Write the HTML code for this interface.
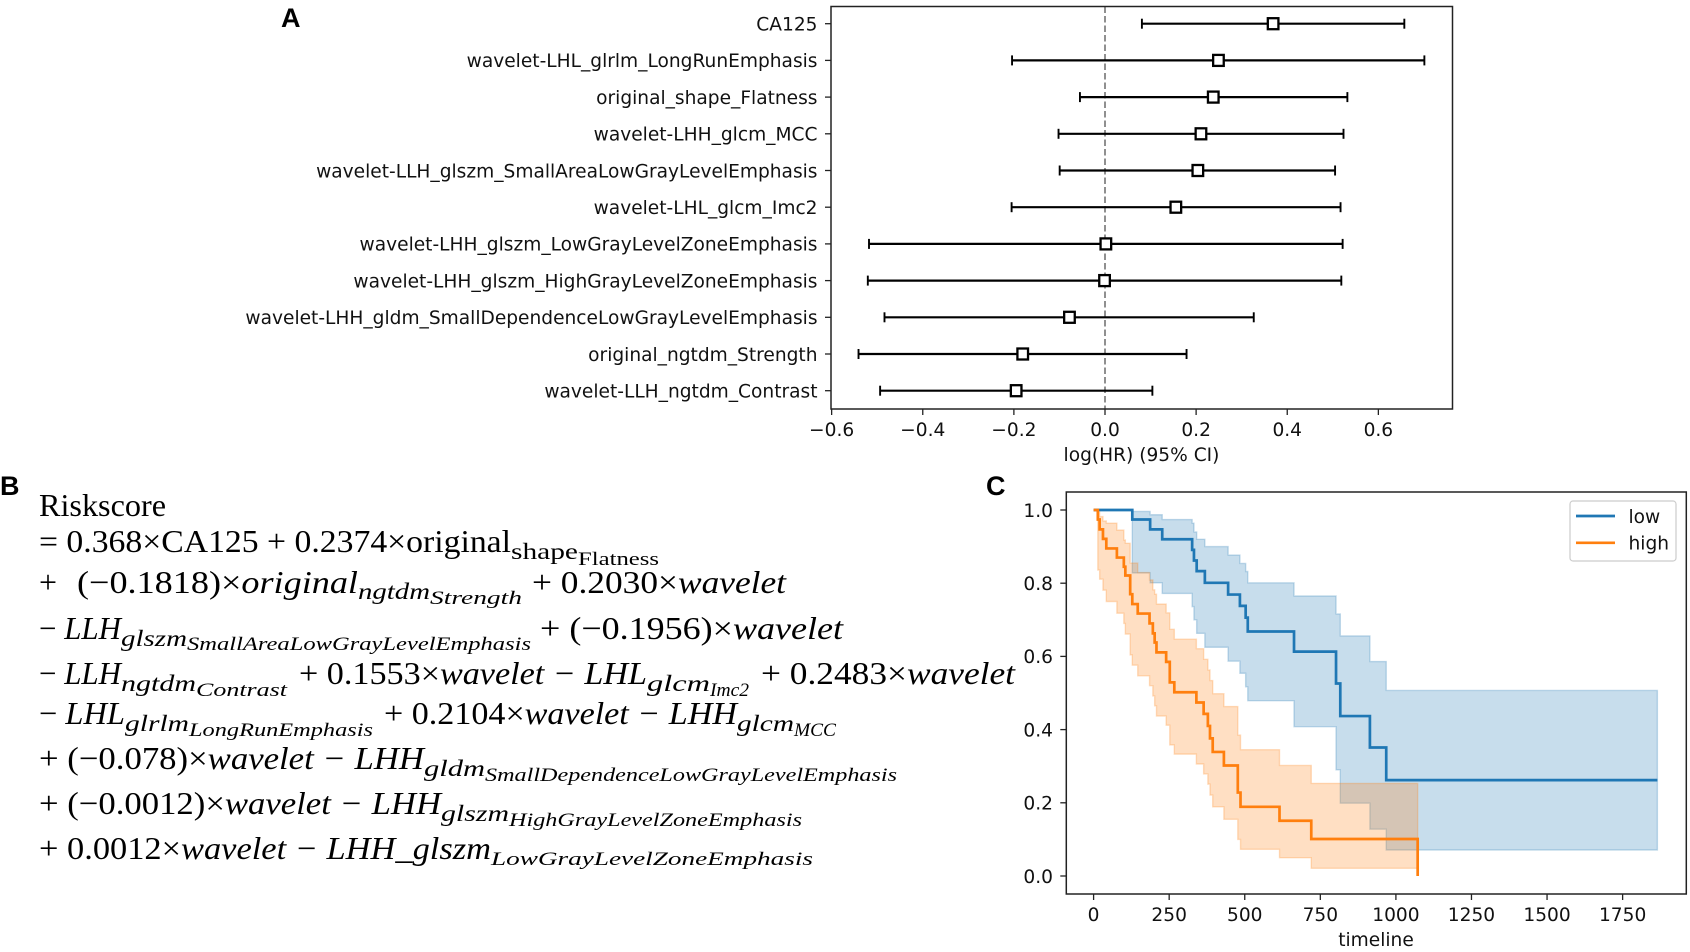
<!DOCTYPE html>
<html lang="en">
<head>
<meta charset="utf-8">
<title>Forest plot, risk score formula and Kaplan-Meier curves</title>
<style>
html,body{margin:0;padding:0;background:#fff;width:1690px;height:952px;overflow:hidden}
svg{display:block;position:absolute;left:0;top:0;filter:blur(0.35px)}
.dj{font-family:"DejaVu Sans","Liberation Sans",sans-serif;fill:#111}
.eq{font-family:"Liberation Serif",serif;fill:#000}
.letter{font-family:"Liberation Sans",sans-serif;font-weight:bold;font-size:27px;fill:#000}
.m{font-size:32px}.s{font-size:23px}.ss{font-size:19px}
</style>
</head>
<body>
<svg id="figure" width="1690" height="952" viewBox="0 0 1690 952" xmlns="http://www.w3.org/2000/svg">
  <rect x="0" y="0" width="1690" height="952" fill="#fff"/>
  <text class="letter" x="281" y="27">A</text>
  <text class="letter" x="0" y="495">B</text>
  <text class="letter" x="986" y="495">C</text>

  <g class="eq" transform="translate(0,1.2)">
    <text class="m" x="39" y="515" textLength="127" lengthAdjust="spacingAndGlyphs">Riskscore</text>

    <g>
      <text class="m" x="39" y="551" textLength="472" lengthAdjust="spacingAndGlyphs">= 0.368×CA125 + 0.2374×original</text>
      <text class="s" x="511" y="558" textLength="67" lengthAdjust="spacingAndGlyphs">shape</text>
      <text class="ss" x="578" y="564" textLength="81" lengthAdjust="spacingAndGlyphs">Flatness</text>
    </g>

    <g>
      <text class="m" x="39" y="592" textLength="18" lengthAdjust="spacingAndGlyphs">+</text>
      <text class="m" x="77" y="592" textLength="281" lengthAdjust="spacingAndGlyphs">(−0.1818)×<tspan font-style="italic">original</tspan></text>
      <text class="s" font-style="italic" x="358" y="598" textLength="72" lengthAdjust="spacingAndGlyphs">ngtdm</text>
      <text class="ss" font-style="italic" x="430" y="603" textLength="92" lengthAdjust="spacingAndGlyphs">Strength</text>
      <text class="m" x="532" y="592" textLength="254" lengthAdjust="spacingAndGlyphs">+ 0.2030×<tspan font-style="italic">wavelet</tspan></text>
    </g>

    <g>
      <text class="m" x="39" y="638" textLength="82" lengthAdjust="spacingAndGlyphs">− <tspan font-style="italic">LLH</tspan></text>
      <text class="s" font-style="italic" x="121" y="645" textLength="66" lengthAdjust="spacingAndGlyphs">glszm</text>
      <text class="ss" font-style="italic" x="187" y="649" textLength="344" lengthAdjust="spacingAndGlyphs">SmallAreaLowGrayLevelEmphasis</text>
      <text class="m" x="540" y="638" textLength="303" lengthAdjust="spacingAndGlyphs">+ (−0.1956)×<tspan font-style="italic">wavelet</tspan></text>
    </g>

    <g>
      <text class="m" x="39" y="683" textLength="82" lengthAdjust="spacingAndGlyphs">− <tspan font-style="italic">LLH</tspan></text>
      <text class="s" font-style="italic" x="121" y="690" textLength="75" lengthAdjust="spacingAndGlyphs">ngtdm</text>
      <text class="ss" font-style="italic" x="196" y="695" textLength="91" lengthAdjust="spacingAndGlyphs">Contrast</text>
      <text class="m" x="299" y="683" textLength="348" lengthAdjust="spacingAndGlyphs">+ 0.1553×<tspan font-style="italic">wavelet − LHL</tspan></text>
      <text class="s" font-style="italic" x="647" y="690" textLength="63" lengthAdjust="spacingAndGlyphs">glcm</text>
      <text class="ss" font-style="italic" x="710" y="695" textLength="39" lengthAdjust="spacingAndGlyphs">Imc2</text>
      <text class="m" x="761" y="683" textLength="254" lengthAdjust="spacingAndGlyphs">+ 0.2483×<tspan font-style="italic">wavelet</tspan></text>
    </g>

    <g>
      <text class="m" x="39" y="723" textLength="86" lengthAdjust="spacingAndGlyphs">− <tspan font-style="italic">LHL</tspan></text>
      <text class="s" font-style="italic" x="125" y="730" textLength="64" lengthAdjust="spacingAndGlyphs">glrlm</text>
      <text class="ss" font-style="italic" x="189" y="735" textLength="184" lengthAdjust="spacingAndGlyphs">LongRunEmphasis</text>
      <text class="m" x="384" y="723" textLength="353" lengthAdjust="spacingAndGlyphs">+ 0.2104×<tspan font-style="italic">wavelet − LHH</tspan></text>
      <text class="s" font-style="italic" x="737" y="730" textLength="57" lengthAdjust="spacingAndGlyphs">glcm</text>
      <text class="ss" font-style="italic" x="794" y="735" textLength="42" lengthAdjust="spacingAndGlyphs">MCC</text>
    </g>

    <g>
      <text class="m" x="39" y="768" textLength="385" lengthAdjust="spacingAndGlyphs">+ (−0.078)×<tspan font-style="italic">wavelet − LHH</tspan></text>
      <text class="s" font-style="italic" x="424" y="775" textLength="61" lengthAdjust="spacingAndGlyphs">gldm</text>
      <text class="ss" font-style="italic" x="485" y="780" textLength="412" lengthAdjust="spacingAndGlyphs">SmallDependenceLowGrayLevelEmphasis</text>
    </g>

    <g>
      <text class="m" x="39" y="813" textLength="402" lengthAdjust="spacingAndGlyphs">+ (−0.0012)×<tspan font-style="italic">wavelet − LHH</tspan></text>
      <text class="s" font-style="italic" x="441" y="820" textLength="68" lengthAdjust="spacingAndGlyphs">glszm</text>
      <text class="ss" font-style="italic" x="509" y="825" textLength="293" lengthAdjust="spacingAndGlyphs">HighGrayLevelZoneEmphasis</text>
    </g>

    <g>
      <text class="m" x="39" y="858" textLength="452" lengthAdjust="spacingAndGlyphs">+ 0.0012×<tspan font-style="italic">wavelet − LHH_glszm</tspan></text>
      <text class="ss" font-style="italic" x="491" y="864" textLength="322" lengthAdjust="spacingAndGlyphs">LowGrayLevelZoneEmphasis</text>
    </g>
  </g>
</svg>

<script>
// Forest plot data
const forestLabels = ["CA125","wavelet-LHL_glrlm_LongRunEmphasis","original_shape_Flatness","wavelet-LHH_glcm_MCC","wavelet-LLH_glszm_SmallAreaLowGrayLevelEmphasis","wavelet-LHL_glcm_Imc2","wavelet-LHH_glszm_LowGrayLevelZoneEmphasis","wavelet-LHH_glszm_HighGrayLevelZoneEmphasis","wavelet-LHH_gldm_SmallDependenceLowGrayLevelEmphasis","original_ngtdm_Strength","wavelet-LLH_ngtdm_Contrast"];
const forestCoef = [0.369,0.249,0.2376,0.2106,0.2038,0.1555,0.0019,-0.001,-0.078,-0.1806,-0.195];
const forestLower = [0.081,-0.204,-0.055,-0.102,-0.0995,-0.205,-0.518,-0.5206,-0.484,-0.541,-0.4936];
const forestUpper = [0.657,0.701,0.532,0.5235,0.505,0.517,0.5216,0.5187,0.3265,0.179,0.104];
const forestTicks = [-0.6,-0.4,-0.2,0,0.2,0.4,0.6];

// Kaplan-Meier data
const lowTimes = [0,128,187,227,326,332,341,368,445,484,503,510,663,802,816,914,968,1865];
const lowSurvival = [1,.974,.947,.920,.891,.862,.833,.801,.769,.738,.706,.668,.613,.526,.437,.351,.262,.262];
const lowUpper = [1,.996,.987,.974,.964,.940,.920,.900,.877,.854,.832,.801,.765,.716,.656,.586,.507,.507];
const lowLower = [1,.828,.801,.772,.736,.700,.663,.625,.587,.554,.517,.479,.408,.290,.199,.128,.071,.071];

const highTimes = [0,14,20,31,42,77,100,105,121,128,146,185,196,202,208,240,252,267,340,364,378,385,394,431,477,486,615,720,1072];
const highSurvival = [1,.974,.947,.921,.895,.870,.845,.821,.770,.743,.717,.690,.663,.638,.611,.585,.529,.502,.474,.443,.410,.376,.339,.302,.228,.189,.151,.101,0];
const highUpper = [1,.995,.982,.970,.964,.945,.918,.909,.855,.855,.829,.809,.782,.770,.743,.719,.674,.647,.621,.592,.563,.534,.498,.463,.385,.345,.302,.253,.253];
const highLower = [1,.836,.811,.781,.750,.718,.690,.661,.604,.576,.547,.520,.492,.465,.437,.412,.358,.333,.306,.279,.251,.221,.189,.155,.100,.073,.050,.021,.021];
const kmXTicks = [0,250,500,750,1000,1250,1500,1750];
const kmYTicks = [0,0.2,0.4,0.6,0.8,1];
const legendLabels = ["low","high"];

const NS = "http://www.w3.org/2000/svg";
const figure = document.getElementById("figure");
const FONT = 18.6;

function make(parent, tag, props, text) {
  const node = document.createElementNS(NS, tag);
  for (const k in props) node.setAttribute(k, props[k]);
  if (text !== undefined) node.textContent = text;
  parent.appendChild(node);
  return node;
}
function tickText(v, digits) {
  return (v < 0 ? "\u2212" : "") + Math.abs(v).toFixed(digits);
}

// Forest axis functions
const forestBox = {l: 831, r: 1452.5, t: 6.5, b: 409};
function fx(v) { return 1105 + v * 455.6; }
function fy(i) { return 23.7 + i * 36.7; }

const forest = make(figure, "g", {});



const zeroLine = make(forest, "line", {x1: fx(0), x2: fx(0), y1: forestBox.t, y2: forestBox.b, stroke: "#555", "stroke-width": 1.3, "stroke-dasharray": "6.5 3"});



forestLabels.forEach(function (label, i) {
  const y = fy(i);
  const tick = make(forest, "line", {x1: forestBox.l - 6, x2: forestBox.l, y1: y, y2: y, stroke: "#222", "stroke-width": 1.3});
  
  

  const lab = make(forest, "text", {x: forestBox.l - 13.5, y: y + 6.8, "text-anchor": "end", "font-size": FONT, class: "dj"}, label);
  
  

  const ci = make(forest, "line", {x1: fx(forestLower[i]), x2: fx(forestUpper[i]), y1: y, y2: y, stroke: "#000", "stroke-width": 2.2});
  
  

  const capLow = make(forest, "line", {x1: fx(forestLower[i]), x2: fx(forestLower[i]), y1: y - 5, y2: y + 5, stroke: "#000", "stroke-width": 1.9});
  
  

  const capHigh = make(forest, "line", {x1: fx(forestUpper[i]), x2: fx(forestUpper[i]), y1: y - 5, y2: y + 5, stroke: "#000", "stroke-width": 1.9});
  
  

  const box = make(forest, "rect", {x: fx(forestCoef[i]) - 5.3, y: y - 5.5, width: 10.6, height: 11, fill: "#fff", stroke: "#000", "stroke-width": 2.3});
  
  
});

forestTicks.forEach(function (v) {
  const tick = make(forest, "line", {x1: fx(v), x2: fx(v), y1: forestBox.b, y2: forestBox.b + 6, stroke: "#222", "stroke-width": 1.3});
  
  

  const lab = make(forest, "text", {x: fx(v), y: 436, "text-anchor": "middle", "font-size": FONT, class: "dj"}, tickText(v, 1));
  
  
});

const forestTitle = make(forest, "text", {x: 1141.5, y: 461, "text-anchor": "middle", "font-size": FONT, class: "dj"}, "log(HR) (95% CI)");



const forestFrame = make(forest, "rect", {x: forestBox.l, y: forestBox.t, width: forestBox.r - forestBox.l, height: forestBox.b - forestBox.t, fill: "none", stroke: "#222", "stroke-width": 1.5});



// Kaplan-Meier axis functions
const kmBox = {l: 1066.3, r: 1686.3, t: 492, b: 894};
function kx(t) { return 1093.6 + t * 0.3023; }
function ky(s) { return 876 - s * 366; }

function stepPoints(times, values) {
  const pts = [];
  times.forEach(function (t, i) {
    if (i > 0) pts.push([kx(t), ky(values[i - 1])]);
    pts.push([kx(t), ky(values[i])]);
  });
  return pts;
}
function toPath(pts) {
  return pts.map(function (p, i) { return (i ? "L" : "M") + p[0].toFixed(2) + " " + p[1].toFixed(2); }).join("");
}

const km = make(figure, "g", {});



const lowBand = make(km, "path", {d: toPath(stepPoints(lowTimes, lowUpper).concat(stepPoints(lowTimes, lowLower).reverse())) + "Z", fill: "#1f77b4", "fill-opacity": 0.25, stroke: "#1f77b4", "stroke-opacity": 0.25, "stroke-width": 1.4});



const highBand = make(km, "path", {d: toPath(stepPoints(highTimes, highUpper).concat(stepPoints(highTimes, highLower).reverse())) + "Z", fill: "#ff7f0e", "fill-opacity": 0.25, stroke: "#ff7f0e", "stroke-opacity": 0.25, "stroke-width": 1.4});



const lowLine = make(km, "path", {d: toPath(stepPoints(lowTimes, lowSurvival)), fill: "none", stroke: "#1f77b4", "stroke-width": 2.7});



const highLine = make(km, "path", {d: toPath(stepPoints(highTimes, highSurvival)), fill: "none", stroke: "#ff7f0e", "stroke-width": 2.7});



kmXTicks.forEach(function (v) {
  const tick = make(km, "line", {x1: kx(v), x2: kx(v), y1: kmBox.b, y2: kmBox.b + 6, stroke: "#222", "stroke-width": 1.3});
  
  

  const lab = make(km, "text", {x: kx(v), y: 921, "text-anchor": "middle", "font-size": FONT, class: "dj"}, String(v));
  
  
});

kmYTicks.forEach(function (v) {
  const tick = make(km, "line", {x1: kmBox.l - 6, x2: kmBox.l, y1: ky(v), y2: ky(v), stroke: "#222", "stroke-width": 1.3});
  
  

  const lab = make(km, "text", {x: 1053, y: ky(v) + 6.8, "text-anchor": "end", "font-size": FONT, class: "dj"}, tickText(v, 1));
  
  
});

const kmTitle = make(km, "text", {x: 1376, y: 946, "text-anchor": "middle", "font-size": FONT, class: "dj"}, "timeline");



const kmFrame = make(km, "rect", {x: kmBox.l, y: kmBox.t, width: kmBox.r - kmBox.l, height: kmBox.b - kmBox.t, fill: "none", stroke: "#222", "stroke-width": 1.5});



const legend = make(km, "g", {});



const legendBox = make(legend, "rect", {x: 1570, y: 501, width: 106, height: 60, rx: 3, fill: "#fff", "fill-opacity": 0.8, stroke: "#ccc", "stroke-width": 1.2});



const legendColors = ["#1f77b4", "#ff7f0e"];
legendLabels.forEach(function (label, i) {
  const y = 516 + i * 26.8;
  const swatch = make(legend, "line", {x1: 1576, x2: 1615, y1: y, y2: y, stroke: legendColors[i], "stroke-width": 2.7});
  
  

  const lab = make(legend, "text", {x: 1628.5, y: y + 6.8, "font-size": FONT, class: "dj"}, label);
  
  
});
</script>
</body>
</html>
